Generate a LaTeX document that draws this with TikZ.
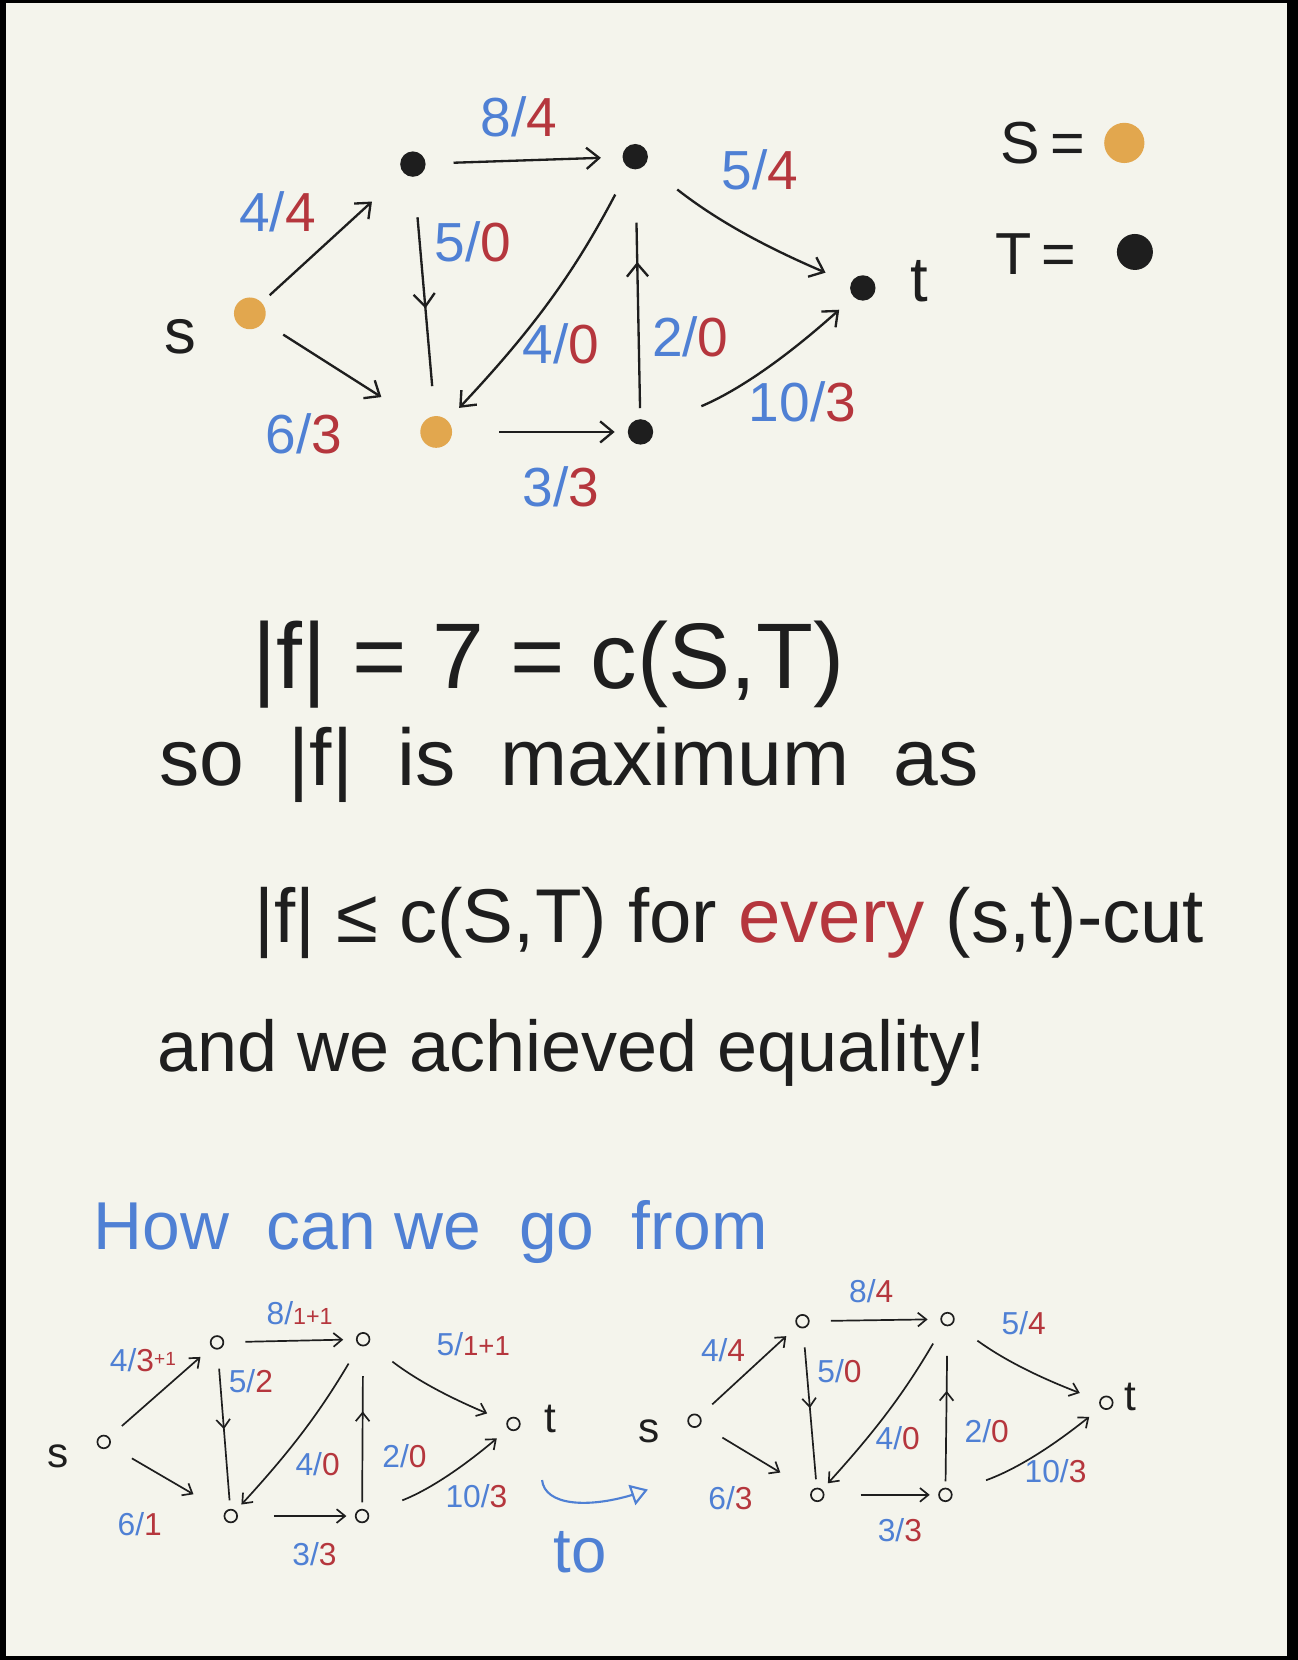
\documentclass[tikz,border=0pt]{standalone}
\usepackage{fontspec}
\setmainfont{Liberation Sans}
\usetikzlibrary{arrows.meta,decorations.markings,bending}
\definecolor{paper}{HTML}{F4F4EC}
\definecolor{pblue}{HTML}{4F80D4}
\definecolor{pred}{HTML}{B5363D}
\definecolor{porange}{HTML}{E2A74E}
\definecolor{ink}{HTML}{1E1E1E}
\newcommand{\fl}[2]{\textcolor{pblue}{#1/}\textcolor{pred}{#2}}
\newcommand{\fsz}[1]{\fontsize{#1}{#1}\selectfont}
\begin{document}
\begin{tikzpicture}[x=0.5pt,y=0.5pt,
  every node/.style={inner sep=0pt,text=ink},
  blk/.style={circle,fill=ink,minimum size=12pt},
  org/.style={circle,fill=porange,minimum size=15pt},
  opn/.style={circle,draw=ink,line width=0.8pt,minimum size=6pt},
  bigedge/.style={draw=ink,line width=1.1pt,-{Straight Barb[length=6pt,width=10pt]}},
  bigplain/.style={draw=ink,line width=1.1pt},
  smedge/.style={draw=ink,line width=0.8pt,-{Straight Barb[length=4pt,width=6.5pt]}},
  smplain/.style={draw=ink,line width=0.8pt},
  bigmid/.style={postaction={decorate},decoration={markings,mark=at position #1 with {\arrow[line width=1.1pt]{Straight Barb[length=6pt,width=10pt]}}}},
  smmid/.style={postaction={decorate},decoration={markings,mark=at position #1 with {\arrow[line width=0.8pt]{Straight Barb[length=4pt,width=6.5pt]}}}},
  biglab/.style={font=\fsz{26}},
  smlab/.style={font=\fsz{15}},
]
% frame and paper
\fill[black] (0,0) rectangle (1226,-1568);
\fill[paper] (6,-3) rectangle (1216,-1564);
\useasboundingbox (0,0) rectangle (1226,-1568);

% ---------------- top graph ----------------
\node[org] (s) at (236,-296) {};
\node[blk] (a) at (390,-155) {};
\node[blk] (b) at (600,-148) {};
\node[blk] (t) at (815,-272) {};
\node[org] (c) at (412,-408) {};
\node[blk] (d) at (605,-408) {};
\node[font=\fsz{30}] (sl) at (170,-318) {s};
\node[font=\fsz{30}] (tl) at (868,-266) {t};

\draw[bigedge,shorten <=5pt,shorten >=20pt] (s) -- (a);
\draw[bigedge,shorten <=11pt,shorten >=23pt] (s) -- (c);
\draw[bigedge,shorten <=13pt,shorten >=10pt] (a) -- (b);
\draw[bigedge,shorten <=19pt,shorten >=13pt] (b) to[bend right=8] (t);
\draw[bigplain,bigmid=0.55,shorten <=19pt,shorten >=14pt] (a) -- (c);
\draw[bigedge,shorten <=14pt,shorten >=8pt] (b) to[bend left=8] (c);
\draw[bigplain,bigmid=0.63,shorten <=5pt,shorten >=25pt] (d) -- (b);
\draw[bigedge,shorten <=22pt,shorten >=6pt] (c) -- (d);
\draw[bigedge,shorten <=25pt,shorten >=9pt] (d) to[bend right=10] (t);

\node[biglab] (l1) at (262,-200) {\fl{4}{4}};
\node[biglab] (l2) at (287,-410) {\fl{6}{3}};
\node[biglab] (l3) at (490,-110) {\fl{8}{4}};
\node[biglab] (l4) at (718,-160) {\fl{5}{4}};
\node[biglab] (l5) at (447,-228) {\fl{5}{0}};
\node[biglab] (l6) at (530,-325) {\fl{4}{0}};
\node[biglab] (l7) at (652,-318) {\fl{2}{0}};
\node[biglab] (l8) at (530,-460) {\fl{3}{3}};
\node[biglab] (l9) at (758,-380) {\fl{10}{3}};

% legend
\node[font=\fsz{28},anchor=west] (S) at (945,-135) {S\,=};
\node[circle,fill=porange,minimum size=19pt] (Sdot) at (1062,-135) {};
\node[font=\fsz{28},anchor=west] (T) at (940,-240) {T\,=};
\node[circle,fill=ink,minimum size=17pt] (Tdot) at (1072,-238) {};

% ---------------- text ----------------
\node[font=\fsz{44},anchor=base west] (line1) at (238,-650) {|f| = 7 = c(S,T)};
\node[font=\fsz{38},anchor=base west] (line2) at (150,-742) {so\ \ |f|\ \ is\ \ maximum\ \ as};
\node[font=\fsz{36},anchor=base west] (line3) at (240,-890) {|f| ≤ c(S,T) for \textcolor{pred}{every} (s,t)-cut};
\node[font=\fsz{34},anchor=base west] (line4) at (148,-1012) {and we achieved equality!};
\node[font=\fsz{32},anchor=base west,text=pblue] (line5) at (88,-1180) {How\ \ can we\ \ go\ \ from};

% ---------------- bottom-left graph ----------------
\node[opn] (s1) at (98,-1362) {};
\node[opn] (a1) at (205,-1268) {};
\node[opn] (b1) at (343,-1265) {};
\node[opn] (t1) at (485,-1345) {};
\node[opn] (c1) at (218,-1432) {};
\node[opn] (d1) at (342,-1432) {};
\node[font=\fsz{20}] (s1l) at (55,-1376) {s};
\node[font=\fsz{20}] (t1l) at (520,-1340) {t};

\draw[smedge,shorten <=8pt,shorten >=7pt] (s1) -- (a1);
\draw[smedge,shorten <=12pt,shorten >=17pt] (s1) -- (c1);
\draw[smedge,shorten <=10pt,shorten >=6pt] (a1) -- (b1);
\draw[smedge,shorten <=14pt,shorten >=10pt] (b1) to[bend right=8] (t1);
\draw[smplain,smmid=0.5,shorten <=9pt,shorten >=4pt] (a1) -- (c1);
\draw[smedge,shorten <=10pt,shorten >=4pt] (b1) to[bend left=6] (c1);
\draw[smplain,smmid=0.6,shorten <=3pt,shorten >=14pt] (d1) -- (b1);
\draw[smedge,shorten <=17pt,shorten >=4pt] (c1) -- (d1);
\draw[smedge,shorten <=17pt,shorten >=7pt] (d1) to[bend right=10] (t1);

\node[smlab] (m1) at (135,-1285) {\textcolor{pblue}{4/}\textcolor{pred}{3\raisebox{3pt}{\fsz{9}+1}}};
\node[smlab] (m2) at (283,-1240) {\textcolor{pblue}{8/}\textcolor{pred}{\fsz{11}1+1}};
\node[smlab] (m3) at (447,-1270) {\textcolor{pblue}{5/}\textcolor{pred}{\fsz{13}1+1}};
\node[smlab] (m4) at (237,-1305) {\fl{5}{2}};
\node[smlab] (m5) at (300,-1383) {\fl{4}{0}};
\node[smlab] (m6) at (382,-1375) {\fl{2}{0}};
\node[smlab] (m7) at (132,-1440) {\fl{6}{1}};
\node[smlab] (m8) at (297,-1468) {\fl{3}{3}};
\node[smlab] (m9) at (450,-1413) {\fl{10}{3}};

% "to" arrow
\coordinate (ta) at (512,-1398);
\coordinate (tb) at (612,-1407);
\draw[pblue,line width=1pt,-{Triangle[open,length=8pt,width=10pt]}] (ta) .. controls (515,-1425) and (565,-1425) .. (tb);
\node[font=\fsz{30},text=pblue] (to) at (548,-1466) {to};

% ---------------- bottom-right graph ----------------
\node[opn] (s2) at (656,-1342) {};
\node[opn] (a2) at (758,-1248) {};
\node[opn] (b2) at (895,-1246) {};
\node[opn] (t2) at (1045,-1325) {};
\node[opn] (c2) at (772,-1412) {};
\node[opn] (d2) at (893,-1412) {};
\node[font=\fsz{20}] (s2l) at (613,-1352) {s};
\node[font=\fsz{20}] (t2l) at (1068,-1320) {t};

\draw[smedge,shorten <=8pt,shorten >=7pt] (s2) -- (a2);
\draw[smedge,shorten <=12pt,shorten >=17pt] (s2) -- (c2);
\draw[smedge,shorten <=10pt,shorten >=6pt] (a2) -- (b2);
\draw[smedge,shorten <=14pt,shorten >=10pt] (b2) to[bend right=8] (t2);
\draw[smplain,smmid=0.5,shorten <=9pt,shorten >=4pt] (a2) -- (c2);
\draw[smedge,shorten <=10pt,shorten >=4pt] (b2) to[bend left=6] (c2);
\draw[smplain,smmid=0.6,shorten <=3pt,shorten >=14pt] (d2) -- (b2);
\draw[smedge,shorten <=17pt,shorten >=4pt] (c2) -- (d2);
\draw[smedge,shorten <=17pt,shorten >=7pt] (d2) to[bend right=10] (t2);

\node[smlab] (n1) at (683,-1275) {\fl{4}{4}};
\node[smlab] (n2) at (823,-1220) {\fl{8}{4}};
\node[smlab] (n3) at (967,-1250) {\fl{5}{4}};
\node[smlab] (n4) at (793,-1295) {\fl{5}{0}};
\node[smlab] (n5) at (848,-1358) {\fl{4}{0}};
\node[smlab] (n6) at (932,-1352) {\fl{2}{0}};
\node[smlab] (n7) at (690,-1415) {\fl{6}{3}};
\node[smlab] (n8) at (850,-1445) {\fl{3}{3}};
\node[smlab] (n9) at (997,-1390) {\fl{10}{3}};
\end{tikzpicture}
\end{document}
